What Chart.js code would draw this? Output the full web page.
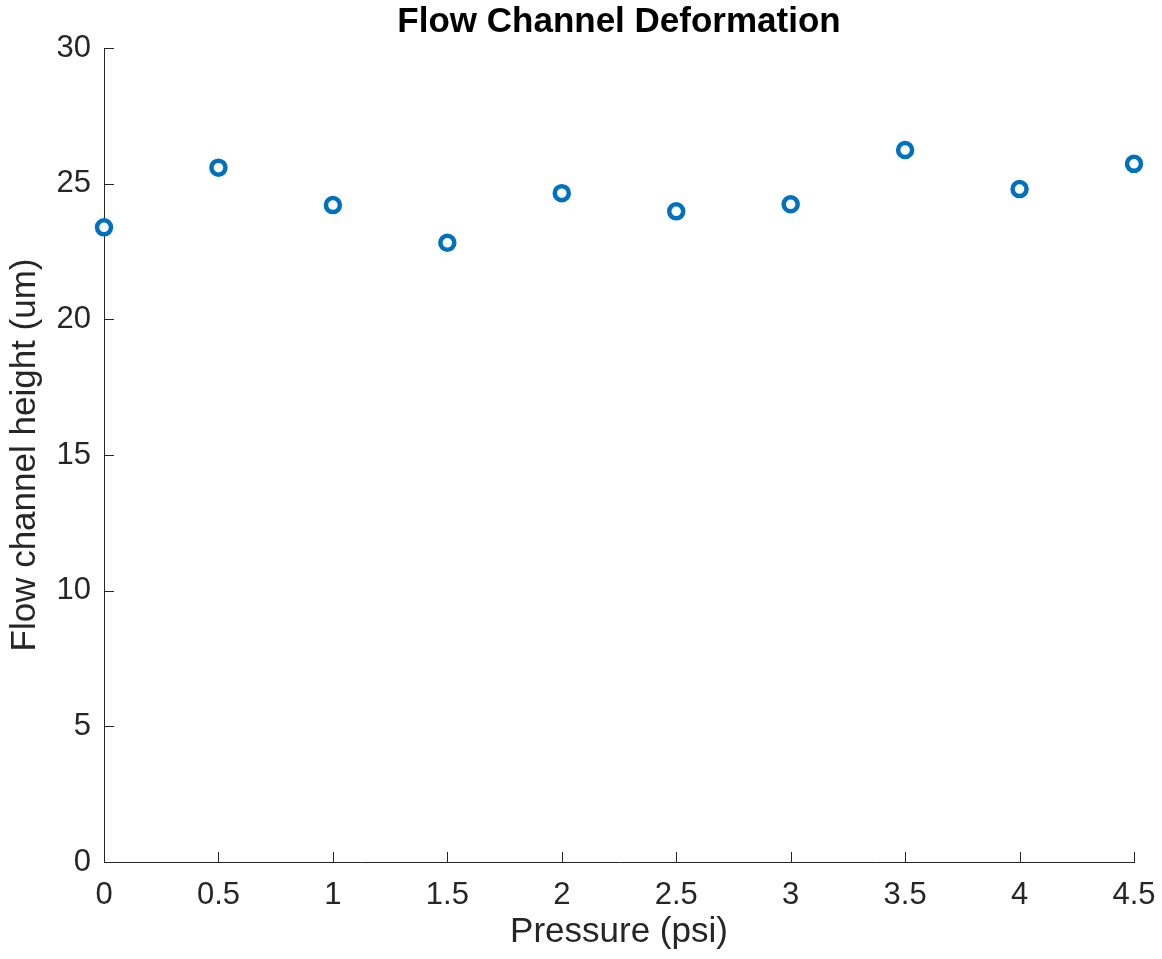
<!DOCTYPE html>
<html>
<head>
<meta charset="utf-8">
<script src="https://cdn.jsdelivr.net/npm/chart.js@4.4.0/dist/chart.umd.min.js"></script>
<style>
  html, body { margin: 0; padding: 0; background: #fff; }
  canvas { display: block; }
</style>
</head>
<body>
<canvas id="chart" width="1162" height="959"></canvas>
<script>
// pressure (psi) and measured channel height (um)
const pressure = [0, 0.5, 1, 1.5, 2, 2.5, 3, 3.5, 4, 4.5];
const height = [23.39, 25.59, 24.21, 22.82, 24.65, 23.98, 24.24, 26.24, 24.80, 25.73];

const axisColor = "#262626";
const fontFamily = "'Liberation Sans', Arial, Helvetica, sans-serif";

// matlab style ticks pointing into the plot
const inwardTicks = {
  id: "inwardTicks",
  beforeDatasetsDraw(chart) {
    const { ctx, chartArea, scales } = chart;
    ctx.save();
    ctx.strokeStyle = axisColor;
    ctx.lineWidth = 1;
    ctx.beginPath();
    scales.x.ticks.forEach(t => {
      const px = Math.round(scales.x.getPixelForValue(t.value)) + 0.5;
      ctx.moveTo(px, chartArea.bottom);
      ctx.lineTo(px, chartArea.bottom - 10);
    });
    scales.y.ticks.forEach(t => {
      const py = Math.round(scales.y.getPixelForValue(t.value)) + 0.5;
      ctx.moveTo(chartArea.left, py);
      ctx.lineTo(chartArea.left + 10, py);
    });
    ctx.stroke();
    ctx.restore();
  }
};

new Chart(document.getElementById("chart"), {
  type: "scatter",
  data: {
    datasets: [{
      data: pressure.map((p, i) => ({ x: p, y: height[i] })),
      borderColor: "#0072BD",
      backgroundColor: "#ffffff",
      pointRadius: 7,
      pointHoverRadius: 7,
      pointBorderWidth: 4.5,
      clip: false
    }]
  },
  options: {
    responsive: false,
    animation: false,
    devicePixelRatio: 1,
    layout: { padding: { left: 0, right: 28, top: 0, bottom: 0 } },
    plugins: {
      legend: { display: false },
      tooltip: { enabled: false },
      title: {
        display: true,
        text: "Flow Channel Deformation",
        color: "#000",
        fullSize: false,
        font: { family: fontFamily, size: 35, weight: "bold", lineHeight: 1.2 },
        padding: { top: 1, bottom: 5 }
      }
    },
    scales: {
      x: {
        type: "linear",
        min: 0,
        max: 4.5,
        afterFit(scale) {
          scale.height = 97;
          scale.paddingLeft = 0;
          scale.paddingRight = 0;
        },
        afterBuildTicks(scale) {
          scale.ticks = pressure.map(v => ({ value: v }));
        },
        ticks: {
          color: axisColor,
          font: { family: fontFamily, size: 31 },
          padding: 15,
          maxRotation: 0,
          autoSkip: false,
          callback: v => String(v)
        },
        grid: { display: false, drawTicks: false },
        border: { display: true, color: axisColor, width: 1 },
        title: {
          display: true,
          text: "Pressure (psi)",
          color: axisColor,
          font: { family: fontFamily, size: 35, lineHeight: 1.2 },
          padding: { top: 0, bottom: 6 }
        }
      },
      y: {
        type: "linear",
        min: 0,
        max: 30,
        afterFit(scale) { scale.width = 104; },
        ticks: {
          stepSize: 5,
          color: axisColor,
          font: { family: fontFamily, size: 31 },
          padding: 13
        },
        grid: { display: false, drawTicks: false },
        border: { display: true, color: axisColor, width: 1 },
        title: {
          display: true,
          text: "Flow channel height (um)",
          color: axisColor,
          font: { family: fontFamily, size: 35, lineHeight: 1.2 },
          padding: { top: 4, bottom: 0 }
        }
      }
    }
  },
  plugins: [inwardTicks]
});
</script>
</body>
</html>
